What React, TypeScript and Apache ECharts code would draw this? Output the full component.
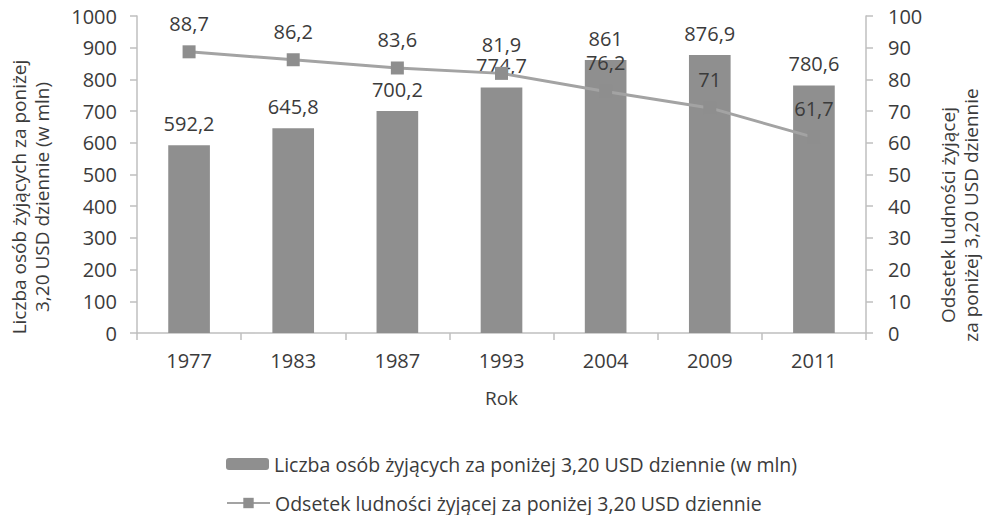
import React, { useEffect, useRef } from "react";
import * as echarts from "echarts";

const categories = ["1977", "1983", "1987", "1993", "2004", "2009", "2011"];
const peopleMln = [592.2, 645.8, 700.2, 774.7, 861, 876.9, 780.6];
const sharePct = [88.7, 86.2, 83.6, 81.9, 76.2, 71, 61.7];
const barName = "Liczba osób żyjących za poniżej 3,20 USD dziennie (w mln)";
const lineName = "Odsetek ludności żyjącej za poniżej 3,20 USD dziennie";
const leftAxisTitle = "Liczba osób żyjących za poniżej\n3,20 USD dziennie (w mln)";
const rightAxisTitle = "Odsetek ludności żyjącej\nza poniżej 3,20 USD dziennie";
const xAxisTitle = "Rok";

const FONT = "'Open Sans', sans-serif";
const TXT = "#3b3b3b";
const AXIS = "#bfbfbf";
const FS = 20;

const fmt = (v: number) => String(v).replace(".", ",");

export default function App() {
  const ref = useRef<HTMLDivElement>(null);
  useEffect(() => {
    document.body.style.margin = "0";
    if (!ref.current) return;
    const chart = echarts.init(ref.current, undefined, { renderer: "svg" });
    chart.setOption({
      animation: false,
      backgroundColor: "#ffffff",
      textStyle: { fontFamily: FONT, color: TXT },
      grid: { left: 137, right: 124, top: 16, bottom: 182, containLabel: false },
      legend: [
        {
          data: [barName],
          left: 221,
          top: 449,
          itemWidth: 43,
          itemHeight: 12,
          itemGap: 4,
          textStyle: { fontFamily: FONT, fontSize: 19.5, color: TXT },
        },
        {
          data: [lineName],
          left: 221,
          top: 488,
          itemWidth: 43,
          itemHeight: 13,
          textStyle: { fontFamily: FONT, fontSize: 19.5, color: TXT },
        },
      ],
      xAxis: {
        type: "category",
        data: categories,
        name: xAxisTitle,
        nameLocation: "middle",
        nameGap: 55,
        nameTextStyle: { fontFamily: FONT, fontSize: 19, color: TXT },
        axisLine: { lineStyle: { color: AXIS, width: 1.5 } },
        axisTick: { show: true, length: 7, alignWithLabel: false, lineStyle: { color: AXIS, width: 1.5 } },
        axisLabel: { margin: 17, fontFamily: FONT, fontSize: FS, color: TXT },
      },
      yAxis: [
        {
          type: "value",
          min: 0,
          max: 1000,
          interval: 100,
          position: "left",
          splitLine: { show: false },
          axisLine: { show: true, lineStyle: { color: AXIS, width: 1.5 } },
          axisTick: { show: true, length: 7, lineStyle: { color: AXIS, width: 1.5 } },
          axisLabel: {
            margin: 20,
            fontFamily: FONT,
            fontSize: FS,
            color: TXT,
            formatter: (v: number) => String(v),
          },
        },
        {
          type: "value",
          min: 0,
          max: 100,
          interval: 10,
          position: "right",
          splitLine: { show: false },
          axisLine: { show: true, lineStyle: { color: AXIS, width: 1.5 } },
          axisTick: { show: true, length: 7, lineStyle: { color: AXIS, width: 1.5 } },
          axisLabel: {
            margin: 22,
            fontFamily: FONT,
            fontSize: FS,
            color: TXT,
            formatter: (v: number) => String(v),
          },
        },
      ],
      graphic: [
        {
          type: "text",
          x: 30,
          y: 197,
          rotation: Math.PI / 2,
          style: {
            text: leftAxisTitle,
            align: "center",
            verticalAlign: "middle",
            fontFamily: FONT,
            fontSize: 19,
            lineHeight: 23,
            fill: TXT,
          },
        },
        {
          type: "text",
          x: 959,
          y: 215,
          rotation: Math.PI / 2,
          style: {
            text: rightAxisTitle,
            align: "center",
            verticalAlign: "middle",
            fontFamily: FONT,
            fontSize: 19,
            lineHeight: 23,
            fill: TXT,
          },
        },
      ],
      series: [
        {
          name: barName,
          type: "bar",
          data: peopleMln,
          yAxisIndex: 0,
          barWidth: "40%",
          itemStyle: { color: "#8f8f8f" },
          label: {
            show: true,
            position: "top",
            distance: 12,
            fontFamily: FONT,
            fontSize: FS,
            color: TXT,
            formatter: (p: any) => fmt(p.value),
          },
          z: 2,
        },
        {
          name: lineName,
          type: "line",
          data: sharePct,
          yAxisIndex: 1,
          symbol: "rect",
          symbolSize: 13,
          lineStyle: { color: "#a3a3a3", width: 3 },
          itemStyle: { color: "#8e8e8e" },
          label: {
            show: true,
            position: "top",
            distance: 12,
            fontFamily: FONT,
            fontSize: FS,
            color: TXT,
            formatter: (p: any) => fmt(p.value),
          },
          z: 3,
        },
      ],
    });
    return () => chart.dispose();
  }, []);
  return <div ref={ref} style={{ width: 990, height: 515 }} />;
}
